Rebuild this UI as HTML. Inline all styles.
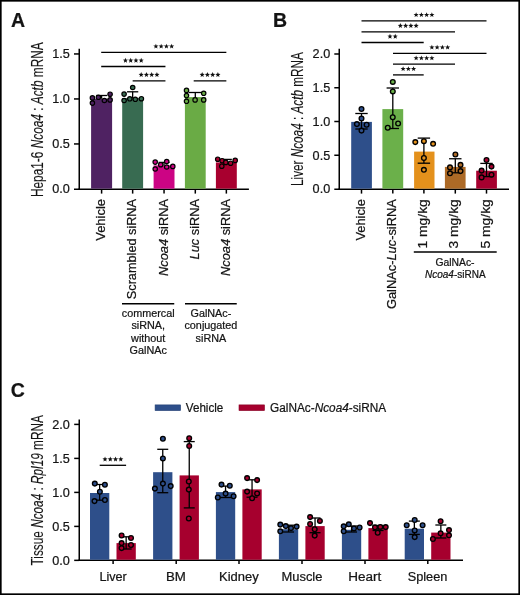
<!DOCTYPE html>
<html><head><meta charset="utf-8"><title>Figure</title>
<style>
html,body{margin:0;padding:0;background:#fff;}
body{width:520px;height:595px;overflow:hidden;}
svg{display:block;font-family:"Liberation Sans", sans-serif;will-change:transform;}
text{fill:#141414;stroke:#141414;stroke-width:0.22px;}
</style></head>
<body>
<svg width="520" height="595" viewBox="0 0 520 595">
<rect x="0" y="0" width="520" height="595" fill="#fff"/>
<line x1="79.25" y1="48.70" x2="79.25" y2="190.00" stroke="#000" stroke-width="1.5"/>
<line x1="74.00" y1="189.25" x2="79.25" y2="189.25" stroke="#000" stroke-width="1.5"/>
<text x="69.90" y="193.25" font-size="12.3" text-anchor="end" textLength="17.6" lengthAdjust="spacingAndGlyphs">0.0</text>
<line x1="74.00" y1="143.95" x2="79.25" y2="143.95" stroke="#000" stroke-width="1.5"/>
<text x="69.90" y="148.25" font-size="12.3" text-anchor="end" textLength="17.6" lengthAdjust="spacingAndGlyphs">0.5</text>
<line x1="74.00" y1="98.95" x2="79.25" y2="98.95" stroke="#000" stroke-width="1.5"/>
<text x="69.90" y="103.25" font-size="12.3" text-anchor="end" textLength="17.6" lengthAdjust="spacingAndGlyphs">1.0</text>
<line x1="74.00" y1="53.95" x2="79.25" y2="53.95" stroke="#000" stroke-width="1.5"/>
<text x="69.90" y="58.25" font-size="12.3" text-anchor="end" textLength="17.6" lengthAdjust="spacingAndGlyphs">1.5</text>
<line x1="78.50" y1="189.25" x2="248.90" y2="189.25" stroke="#000" stroke-width="1.5"/>
<rect x="91.10" y="98.75" width="21.00" height="89.90" fill="#4f2262"/>
<rect x="122.20" y="98.00" width="20.90" height="90.65" fill="#386b51"/>
<rect x="153.60" y="165.40" width="20.90" height="23.25" fill="#cc0484"/>
<rect x="184.90" y="97.10" width="20.80" height="91.55" fill="#6aab45"/>
<rect x="215.90" y="162.40" width="20.90" height="26.25" fill="#a8002f"/>
<line x1="101.60" y1="189.25" x2="101.60" y2="193.60" stroke="#000" stroke-width="1.5"/>
<line x1="132.65" y1="189.25" x2="132.65" y2="193.60" stroke="#000" stroke-width="1.5"/>
<line x1="164.05" y1="189.25" x2="164.05" y2="193.60" stroke="#000" stroke-width="1.5"/>
<line x1="195.30" y1="189.25" x2="195.30" y2="193.60" stroke="#000" stroke-width="1.5"/>
<line x1="226.35" y1="189.25" x2="226.35" y2="193.60" stroke="#000" stroke-width="1.5"/>
<line x1="96.10" y1="95.50" x2="107.10" y2="95.50" stroke="#000" stroke-width="1.3"/>
<line x1="101.60" y1="95.50" x2="101.60" y2="95.50" stroke="#000" stroke-width="1.3"/>
<line x1="101.60" y1="95.50" x2="101.60" y2="98.75" stroke="#000" stroke-width="1.3"/>
<line x1="127.05" y1="91.80" x2="138.25" y2="91.80" stroke="#000" stroke-width="1.3"/>
<line x1="132.65" y1="91.80" x2="132.65" y2="91.80" stroke="#000" stroke-width="1.3"/>
<line x1="132.65" y1="91.80" x2="132.65" y2="98.00" stroke="#000" stroke-width="1.3"/>
<line x1="158.55" y1="162.40" x2="169.55" y2="162.40" stroke="#000" stroke-width="1.3"/>
<line x1="164.05" y1="162.40" x2="164.05" y2="162.40" stroke="#000" stroke-width="1.3"/>
<line x1="164.05" y1="162.40" x2="164.05" y2="165.40" stroke="#000" stroke-width="1.3"/>
<line x1="188.80" y1="92.50" x2="201.80" y2="92.50" stroke="#000" stroke-width="1.3"/>
<line x1="195.30" y1="92.50" x2="195.30" y2="92.50" stroke="#000" stroke-width="1.3"/>
<line x1="195.30" y1="92.50" x2="195.30" y2="97.10" stroke="#000" stroke-width="1.3"/>
<line x1="220.85" y1="159.40" x2="231.85" y2="159.40" stroke="#000" stroke-width="1.3"/>
<line x1="226.35" y1="159.40" x2="226.35" y2="159.40" stroke="#000" stroke-width="1.3"/>
<line x1="226.35" y1="159.40" x2="226.35" y2="162.40" stroke="#000" stroke-width="1.3"/>
<circle cx="92.40" cy="97.90" r="2.2" fill="#4f2262" stroke="#000" stroke-width="1.2"/>
<circle cx="92.40" cy="103.10" r="2.2" fill="#4f2262" stroke="#000" stroke-width="1.2"/>
<circle cx="98.40" cy="97.30" r="2.2" fill="#4f2262" stroke="#000" stroke-width="1.2"/>
<circle cx="104.40" cy="100.50" r="2.2" fill="#4f2262" stroke="#000" stroke-width="1.2"/>
<circle cx="110.10" cy="94.20" r="2.2" fill="#4f2262" stroke="#000" stroke-width="1.2"/>
<circle cx="110.10" cy="99.90" r="2.2" fill="#4f2262" stroke="#000" stroke-width="1.2"/>
<circle cx="132.70" cy="87.50" r="2.2" fill="#386b51" stroke="#000" stroke-width="1.2"/>
<circle cx="124.10" cy="94.10" r="2.2" fill="#386b51" stroke="#000" stroke-width="1.2"/>
<circle cx="124.10" cy="100.50" r="2.2" fill="#386b51" stroke="#000" stroke-width="1.2"/>
<circle cx="129.80" cy="98.80" r="2.2" fill="#386b51" stroke="#000" stroke-width="1.2"/>
<circle cx="135.30" cy="99.30" r="2.2" fill="#386b51" stroke="#000" stroke-width="1.2"/>
<circle cx="141.40" cy="98.70" r="2.2" fill="#386b51" stroke="#000" stroke-width="1.2"/>
<circle cx="155.20" cy="162.10" r="2.2" fill="#cc0484" stroke="#000" stroke-width="1.2"/>
<circle cx="155.20" cy="169.00" r="2.2" fill="#cc0484" stroke="#000" stroke-width="1.2"/>
<circle cx="160.70" cy="164.70" r="2.2" fill="#cc0484" stroke="#000" stroke-width="1.2"/>
<circle cx="166.70" cy="161.50" r="2.2" fill="#cc0484" stroke="#000" stroke-width="1.2"/>
<circle cx="166.70" cy="167.00" r="2.2" fill="#cc0484" stroke="#000" stroke-width="1.2"/>
<circle cx="172.80" cy="166.40" r="2.2" fill="#cc0484" stroke="#000" stroke-width="1.2"/>
<circle cx="186.50" cy="90.40" r="2.2" fill="#6aab45" stroke="#000" stroke-width="1.2"/>
<circle cx="186.50" cy="95.60" r="2.2" fill="#6aab45" stroke="#000" stroke-width="1.2"/>
<circle cx="186.50" cy="101.30" r="2.2" fill="#6aab45" stroke="#000" stroke-width="1.2"/>
<circle cx="195.10" cy="99.90" r="2.2" fill="#6aab45" stroke="#000" stroke-width="1.2"/>
<circle cx="203.70" cy="93.30" r="2.2" fill="#6aab45" stroke="#000" stroke-width="1.2"/>
<circle cx="203.70" cy="99.90" r="2.2" fill="#6aab45" stroke="#000" stroke-width="1.2"/>
<circle cx="217.70" cy="159.20" r="2.2" fill="#a8002f" stroke="#000" stroke-width="1.2"/>
<circle cx="222.10" cy="160.70" r="2.2" fill="#a8002f" stroke="#000" stroke-width="1.2"/>
<circle cx="221.80" cy="166.20" r="2.2" fill="#a8002f" stroke="#000" stroke-width="1.2"/>
<circle cx="225.80" cy="162.40" r="2.2" fill="#a8002f" stroke="#000" stroke-width="1.2"/>
<circle cx="230.60" cy="163.20" r="2.2" fill="#a8002f" stroke="#000" stroke-width="1.2"/>
<circle cx="235.20" cy="160.40" r="2.2" fill="#a8002f" stroke="#000" stroke-width="1.2"/>
<line x1="101.20" y1="52.40" x2="226.35" y2="52.40" stroke="#000" stroke-width="1.3"/>
<path d="M155.90,43.70 L156.58,45.47 L158.47,45.57 L156.99,46.76 L157.49,48.58 L155.90,47.55 L154.31,48.58 L154.81,46.76 L153.33,45.57 L155.22,45.47ZM161.15,43.70 L161.83,45.47 L163.72,45.57 L162.24,46.76 L162.74,48.58 L161.15,47.55 L159.56,48.58 L160.06,46.76 L158.58,45.57 L160.47,45.47ZM166.40,43.70 L167.08,45.47 L168.97,45.57 L167.49,46.76 L167.99,48.58 L166.40,47.55 L164.81,48.58 L165.31,46.76 L163.83,45.57 L165.72,45.47ZM171.65,43.70 L172.33,45.47 L174.22,45.57 L172.74,46.76 L173.24,48.58 L171.65,47.55 L170.06,48.58 L170.56,46.76 L169.08,45.57 L170.97,45.47Z" fill="#111"/>
<line x1="101.20" y1="66.50" x2="165.45" y2="66.50" stroke="#000" stroke-width="1.3"/>
<path d="M125.45,57.80 L126.13,59.57 L128.02,59.67 L126.54,60.86 L127.04,62.68 L125.45,61.65 L123.86,62.68 L124.36,60.86 L122.88,59.67 L124.77,59.57ZM130.70,57.80 L131.38,59.57 L133.27,59.67 L131.79,60.86 L132.29,62.68 L130.70,61.65 L129.11,62.68 L129.61,60.86 L128.13,59.67 L130.02,59.57ZM135.95,57.80 L136.63,59.57 L138.52,59.67 L137.04,60.86 L137.54,62.68 L135.95,61.65 L134.36,62.68 L134.86,60.86 L133.38,59.67 L135.27,59.57ZM141.20,57.80 L141.88,59.57 L143.77,59.67 L142.29,60.86 L142.79,62.68 L141.20,61.65 L139.61,62.68 L140.11,60.86 L138.63,59.67 L140.52,59.57Z" fill="#111"/>
<line x1="132.65" y1="80.80" x2="165.45" y2="80.80" stroke="#000" stroke-width="1.3"/>
<path d="M141.18,72.10 L141.85,73.87 L143.74,73.97 L142.27,75.16 L142.76,76.98 L141.18,75.95 L139.59,76.98 L140.08,75.16 L138.61,73.97 L140.50,73.87ZM146.43,72.10 L147.10,73.87 L148.99,73.97 L147.52,75.16 L148.01,76.98 L146.43,75.95 L144.84,76.98 L145.33,75.16 L143.86,73.97 L145.75,73.87ZM151.68,72.10 L152.35,73.87 L154.24,73.97 L152.77,75.16 L153.26,76.98 L151.68,75.95 L150.09,76.98 L150.58,75.16 L149.11,73.97 L151.00,73.87ZM156.93,72.10 L157.60,73.87 L159.49,73.97 L158.02,75.16 L158.51,76.98 L156.93,75.95 L155.34,76.98 L155.83,75.16 L154.36,73.97 L156.25,73.87Z" fill="#111"/>
<line x1="193.70" y1="80.80" x2="226.35" y2="80.80" stroke="#000" stroke-width="1.3"/>
<path d="M202.15,72.10 L202.83,73.87 L204.72,73.97 L203.24,75.16 L203.74,76.98 L202.15,75.95 L200.56,76.98 L201.06,75.16 L199.58,73.97 L201.47,73.87ZM207.40,72.10 L208.08,73.87 L209.97,73.97 L208.49,75.16 L208.99,76.98 L207.40,75.95 L205.81,76.98 L206.31,75.16 L204.83,73.97 L206.72,73.87ZM212.65,72.10 L213.33,73.87 L215.22,73.97 L213.74,75.16 L214.24,76.98 L212.65,75.95 L211.06,76.98 L211.56,75.16 L210.08,73.97 L211.97,73.87ZM217.90,72.10 L218.58,73.87 L220.47,73.97 L218.99,75.16 L219.49,76.98 L217.90,75.95 L216.31,76.98 L216.81,75.16 L215.33,73.97 L217.22,73.87Z" fill="#111"/>
<text transform="translate(43.1,119.7) rotate(-90)" font-size="15.6" text-anchor="middle" style="stroke-width:0.12px" textLength="154.8" lengthAdjust="spacingAndGlyphs">Hepa1-6 <tspan font-style="italic">Ncoa4</tspan> : <tspan font-style="italic">Actb</tspan> mRNA</text>
<text transform="translate(105.20,199.0) rotate(-90)" font-size="12" text-anchor="end" textLength="41.8" lengthAdjust="spacingAndGlyphs">Vehicle</text>
<text transform="translate(136.25,199.0) rotate(-90)" font-size="12" text-anchor="end" textLength="100.2" lengthAdjust="spacingAndGlyphs">Scrambled siRNA</text>
<text transform="translate(167.65,199.0) rotate(-90)" font-size="12" text-anchor="end" textLength="77.0" lengthAdjust="spacingAndGlyphs"><tspan font-style="italic">Ncoa4</tspan> siRNA</text>
<text transform="translate(198.90,199.0) rotate(-90)" font-size="12" text-anchor="end" textLength="60.4" lengthAdjust="spacingAndGlyphs"><tspan font-style="italic">Luc</tspan> siRNA</text>
<text transform="translate(229.95,199.0) rotate(-90)" font-size="12" text-anchor="end" textLength="77.0" lengthAdjust="spacingAndGlyphs"><tspan font-style="italic">Ncoa4</tspan> siRNA</text>
<line x1="122.00" y1="303.75" x2="174.25" y2="303.75" stroke="#000" stroke-width="1.5"/>
<line x1="185.00" y1="303.75" x2="236.75" y2="303.75" stroke="#000" stroke-width="1.5"/>
<text x="148.20" y="317.20" font-size="10.8" text-anchor="middle" >commercal</text>
<text x="148.20" y="329.45" font-size="10.8" text-anchor="middle" >siRNA,</text>
<text x="148.20" y="341.70" font-size="10.8" text-anchor="middle" >without</text>
<text x="148.20" y="353.95" font-size="10.8" text-anchor="middle" >GalNAc</text>
<text x="210.90" y="317.20" font-size="10.8" text-anchor="middle" >GalNAc-</text>
<text x="210.90" y="329.45" font-size="10.8" text-anchor="middle" >conjugated</text>
<text x="210.90" y="341.70" font-size="10.8" text-anchor="middle" >siRNA</text>
<text x="11.00" y="26.60" font-size="19.5" text-anchor="start" font-weight="bold">A</text>
<line x1="339.25" y1="48.80" x2="339.25" y2="190.00" stroke="#000" stroke-width="1.5"/>
<line x1="334.30" y1="189.25" x2="339.25" y2="189.25" stroke="#000" stroke-width="1.5"/>
<text x="330.20" y="193.30" font-size="12.3" text-anchor="end" textLength="17.6" lengthAdjust="spacingAndGlyphs">0.0</text>
<line x1="334.30" y1="155.25" x2="339.25" y2="155.25" stroke="#000" stroke-width="1.5"/>
<text x="330.20" y="159.55" font-size="12.3" text-anchor="end" textLength="17.6" lengthAdjust="spacingAndGlyphs">0.5</text>
<line x1="334.30" y1="121.50" x2="339.25" y2="121.50" stroke="#000" stroke-width="1.5"/>
<text x="330.20" y="125.80" font-size="12.3" text-anchor="end" textLength="17.6" lengthAdjust="spacingAndGlyphs">1.0</text>
<line x1="334.30" y1="87.75" x2="339.25" y2="87.75" stroke="#000" stroke-width="1.5"/>
<text x="330.20" y="92.05" font-size="12.3" text-anchor="end" textLength="17.6" lengthAdjust="spacingAndGlyphs">1.5</text>
<line x1="334.30" y1="54.00" x2="339.25" y2="54.00" stroke="#000" stroke-width="1.5"/>
<text x="330.20" y="58.30" font-size="12.3" text-anchor="end" textLength="17.6" lengthAdjust="spacingAndGlyphs">2.0</text>
<line x1="338.50" y1="189.25" x2="509.00" y2="189.25" stroke="#000" stroke-width="1.5"/>
<rect x="351.20" y="121.90" width="20.70" height="66.75" fill="#2e4f8a"/>
<rect x="382.40" y="109.10" width="20.80" height="79.55" fill="#6bb04a"/>
<rect x="414.10" y="151.60" width="20.40" height="37.05" fill="#e4911c"/>
<rect x="444.90" y="166.90" width="20.70" height="21.75" fill="#ad6a26"/>
<rect x="476.20" y="170.70" width="20.70" height="17.95" fill="#a6002f"/>
<line x1="361.50" y1="189.25" x2="361.50" y2="193.60" stroke="#000" stroke-width="1.5"/>
<line x1="392.80" y1="189.25" x2="392.80" y2="193.60" stroke="#000" stroke-width="1.5"/>
<line x1="423.90" y1="189.25" x2="423.90" y2="193.60" stroke="#000" stroke-width="1.5"/>
<line x1="455.30" y1="189.25" x2="455.30" y2="193.60" stroke="#000" stroke-width="1.5"/>
<line x1="486.50" y1="189.25" x2="486.50" y2="193.60" stroke="#000" stroke-width="1.5"/>
<line x1="355.30" y1="113.50" x2="367.70" y2="113.50" stroke="#000" stroke-width="1.3"/>
<line x1="355.30" y1="129.00" x2="367.70" y2="129.00" stroke="#000" stroke-width="1.3"/>
<line x1="361.50" y1="113.50" x2="361.50" y2="129.00" stroke="#000" stroke-width="1.3"/>
<line x1="386.60" y1="88.00" x2="399.00" y2="88.00" stroke="#000" stroke-width="1.3"/>
<line x1="386.60" y1="128.50" x2="399.00" y2="128.50" stroke="#000" stroke-width="1.3"/>
<line x1="392.80" y1="88.00" x2="392.80" y2="128.50" stroke="#000" stroke-width="1.3"/>
<line x1="417.70" y1="138.10" x2="430.10" y2="138.10" stroke="#000" stroke-width="1.3"/>
<line x1="417.70" y1="163.20" x2="430.10" y2="163.20" stroke="#000" stroke-width="1.3"/>
<line x1="423.90" y1="138.10" x2="423.90" y2="163.20" stroke="#000" stroke-width="1.3"/>
<line x1="449.10" y1="158.75" x2="461.50" y2="158.75" stroke="#000" stroke-width="1.3"/>
<line x1="449.10" y1="172.80" x2="461.50" y2="172.80" stroke="#000" stroke-width="1.3"/>
<line x1="455.30" y1="158.75" x2="455.30" y2="172.80" stroke="#000" stroke-width="1.3"/>
<line x1="480.30" y1="163.40" x2="492.70" y2="163.40" stroke="#000" stroke-width="1.3"/>
<line x1="480.30" y1="176.60" x2="492.70" y2="176.60" stroke="#000" stroke-width="1.3"/>
<line x1="486.50" y1="163.40" x2="486.50" y2="176.60" stroke="#000" stroke-width="1.3"/>
<circle cx="361.50" cy="109.00" r="2.35" fill="#2e4f8a" stroke="#000" stroke-width="1.35"/>
<circle cx="361.50" cy="118.50" r="2.35" fill="#2e4f8a" stroke="#000" stroke-width="1.35"/>
<circle cx="356.90" cy="124.10" r="2.35" fill="#2e4f8a" stroke="#000" stroke-width="1.35"/>
<circle cx="366.60" cy="124.75" r="2.35" fill="#2e4f8a" stroke="#000" stroke-width="1.35"/>
<circle cx="361.50" cy="130.60" r="2.35" fill="#2e4f8a" stroke="#000" stroke-width="1.35"/>
<circle cx="392.80" cy="81.90" r="2.35" fill="#6bb04a" stroke="#000" stroke-width="1.35"/>
<circle cx="392.80" cy="91.40" r="2.35" fill="#6bb04a" stroke="#000" stroke-width="1.35"/>
<circle cx="392.75" cy="117.25" r="2.35" fill="#6bb04a" stroke="#000" stroke-width="1.35"/>
<circle cx="398.10" cy="123.50" r="2.35" fill="#6bb04a" stroke="#000" stroke-width="1.35"/>
<circle cx="387.75" cy="127.75" r="2.35" fill="#6bb04a" stroke="#000" stroke-width="1.35"/>
<circle cx="415.30" cy="142.10" r="2.35" fill="#e4911c" stroke="#000" stroke-width="1.35"/>
<circle cx="423.90" cy="141.20" r="2.35" fill="#e4911c" stroke="#000" stroke-width="1.35"/>
<circle cx="433.10" cy="143.80" r="2.35" fill="#e4911c" stroke="#000" stroke-width="1.35"/>
<circle cx="423.90" cy="158.00" r="2.35" fill="#e4911c" stroke="#000" stroke-width="1.35"/>
<circle cx="423.90" cy="169.80" r="2.35" fill="#e4911c" stroke="#000" stroke-width="1.35"/>
<circle cx="455.40" cy="154.50" r="2.35" fill="#ad6a26" stroke="#000" stroke-width="1.35"/>
<circle cx="450.00" cy="167.40" r="2.35" fill="#ad6a26" stroke="#000" stroke-width="1.35"/>
<circle cx="460.50" cy="164.90" r="2.35" fill="#ad6a26" stroke="#000" stroke-width="1.35"/>
<circle cx="450.00" cy="173.30" r="2.35" fill="#ad6a26" stroke="#000" stroke-width="1.35"/>
<circle cx="460.50" cy="171.10" r="2.35" fill="#ad6a26" stroke="#000" stroke-width="1.35"/>
<circle cx="486.50" cy="160.00" r="2.35" fill="#a6002f" stroke="#000" stroke-width="1.35"/>
<circle cx="491.50" cy="166.60" r="2.35" fill="#a6002f" stroke="#000" stroke-width="1.35"/>
<circle cx="481.60" cy="170.60" r="2.35" fill="#a6002f" stroke="#000" stroke-width="1.35"/>
<circle cx="491.50" cy="174.70" r="2.35" fill="#a6002f" stroke="#000" stroke-width="1.35"/>
<circle cx="481.60" cy="177.40" r="2.35" fill="#a6002f" stroke="#000" stroke-width="1.35"/>
<line x1="361.50" y1="20.90" x2="486.50" y2="20.90" stroke="#000" stroke-width="1.3"/>
<path d="M416.12,12.20 L416.80,13.97 L418.69,14.07 L417.22,15.26 L417.71,17.08 L416.12,16.05 L414.54,17.08 L415.03,15.26 L413.56,14.07 L415.45,13.97ZM421.38,12.20 L422.05,13.97 L423.94,14.07 L422.47,15.26 L422.96,17.08 L421.38,16.05 L419.79,17.08 L420.28,15.26 L418.81,14.07 L420.70,13.97ZM426.62,12.20 L427.30,13.97 L429.19,14.07 L427.72,15.26 L428.21,17.08 L426.62,16.05 L425.04,17.08 L425.53,15.26 L424.06,14.07 L425.95,13.97ZM431.88,12.20 L432.55,13.97 L434.44,14.07 L432.97,15.26 L433.46,17.08 L431.88,16.05 L430.29,17.08 L430.78,15.26 L429.31,14.07 L431.20,13.97Z" fill="#111"/>
<line x1="361.50" y1="31.80" x2="455.00" y2="31.80" stroke="#000" stroke-width="1.3"/>
<path d="M400.38,23.10 L401.05,24.87 L402.94,24.97 L401.47,26.16 L401.96,27.98 L400.38,26.95 L398.79,27.98 L399.28,26.16 L397.81,24.97 L399.70,24.87ZM405.62,23.10 L406.30,24.87 L408.19,24.97 L406.72,26.16 L407.21,27.98 L405.62,26.95 L404.04,27.98 L404.53,26.16 L403.06,24.97 L404.95,24.87ZM410.88,23.10 L411.55,24.87 L413.44,24.97 L411.97,26.16 L412.46,27.98 L410.88,26.95 L409.29,27.98 L409.78,26.16 L408.31,24.97 L410.20,24.87ZM416.12,23.10 L416.80,24.87 L418.69,24.97 L417.22,26.16 L417.71,27.98 L416.12,26.95 L414.54,27.98 L415.03,26.16 L413.56,24.97 L415.45,24.87Z" fill="#111"/>
<line x1="361.50" y1="42.50" x2="423.70" y2="42.50" stroke="#000" stroke-width="1.3"/>
<path d="M389.98,33.80 L390.65,35.57 L392.54,35.67 L391.07,36.86 L391.56,38.68 L389.98,37.65 L388.39,38.68 L388.88,36.86 L387.41,35.67 L389.30,35.57ZM395.23,33.80 L395.90,35.57 L397.79,35.67 L396.32,36.86 L396.81,38.68 L395.23,37.65 L393.64,38.68 L394.13,36.86 L392.66,35.67 L394.55,35.57Z" fill="#111"/>
<line x1="393.00" y1="53.35" x2="486.50" y2="53.35" stroke="#000" stroke-width="1.3"/>
<path d="M431.88,44.65 L432.55,46.42 L434.44,46.52 L432.97,47.71 L433.46,49.53 L431.88,48.50 L430.29,49.53 L430.78,47.71 L429.31,46.52 L431.20,46.42ZM437.12,44.65 L437.80,46.42 L439.69,46.52 L438.22,47.71 L438.71,49.53 L437.12,48.50 L435.54,49.53 L436.03,47.71 L434.56,46.52 L436.45,46.42ZM442.38,44.65 L443.05,46.42 L444.94,46.52 L443.47,47.71 L443.96,49.53 L442.38,48.50 L440.79,49.53 L441.28,47.71 L439.81,46.52 L441.70,46.42ZM447.62,44.65 L448.30,46.42 L450.19,46.52 L448.72,47.71 L449.21,49.53 L447.62,48.50 L446.04,49.53 L446.53,47.71 L445.06,46.52 L446.95,46.42Z" fill="#111"/>
<line x1="393.00" y1="64.15" x2="455.00" y2="64.15" stroke="#000" stroke-width="1.3"/>
<path d="M416.12,55.45 L416.80,57.22 L418.69,57.32 L417.22,58.51 L417.71,60.33 L416.12,59.30 L414.54,60.33 L415.03,58.51 L413.56,57.32 L415.45,57.22ZM421.38,55.45 L422.05,57.22 L423.94,57.32 L422.47,58.51 L422.96,60.33 L421.38,59.30 L419.79,60.33 L420.28,58.51 L418.81,57.32 L420.70,57.22ZM426.62,55.45 L427.30,57.22 L429.19,57.32 L427.72,58.51 L428.21,60.33 L426.62,59.30 L425.04,60.33 L425.53,58.51 L424.06,57.32 L425.95,57.22ZM431.88,55.45 L432.55,57.22 L434.44,57.32 L432.97,58.51 L433.46,60.33 L431.88,59.30 L430.29,60.33 L430.78,58.51 L429.31,57.32 L431.20,57.22Z" fill="#111"/>
<line x1="393.00" y1="74.90" x2="423.70" y2="74.90" stroke="#000" stroke-width="1.3"/>
<path d="M403.10,66.20 L403.78,67.97 L405.67,68.07 L404.19,69.26 L404.69,71.08 L403.10,70.05 L401.51,71.08 L402.01,69.26 L400.53,68.07 L402.42,67.97ZM408.35,66.20 L409.03,67.97 L410.92,68.07 L409.44,69.26 L409.94,71.08 L408.35,70.05 L406.76,71.08 L407.26,69.26 L405.78,68.07 L407.67,67.97ZM413.60,66.20 L414.28,67.97 L416.17,68.07 L414.69,69.26 L415.19,71.08 L413.60,70.05 L412.01,71.08 L412.51,69.26 L411.03,68.07 L412.92,67.97Z" fill="#111"/>
<text transform="translate(303.3,119.1) rotate(-90)" font-size="15.6" text-anchor="middle" style="stroke-width:0.12px" textLength="133.8" lengthAdjust="spacingAndGlyphs">Liver <tspan font-style="italic">Ncoa4</tspan> : <tspan font-style="italic">Actb</tspan> mRNA</text>
<text transform="translate(364.60,199.2) rotate(-90)" font-size="12" text-anchor="end" textLength="41.4" lengthAdjust="spacingAndGlyphs">Vehicle</text>
<text transform="translate(395.90,199.2) rotate(-90)" font-size="12" text-anchor="end" textLength="109.8" lengthAdjust="spacingAndGlyphs">GalNAc-<tspan font-style="italic">Luc</tspan>-siRNA</text>
<text transform="translate(427.00,199.2) rotate(-90)" font-size="12" text-anchor="end" textLength="49.4" lengthAdjust="spacingAndGlyphs">1 mg/kg</text>
<text transform="translate(458.40,199.2) rotate(-90)" font-size="12" text-anchor="end" textLength="49.4" lengthAdjust="spacingAndGlyphs">3 mg/kg</text>
<text transform="translate(489.60,199.2) rotate(-90)" font-size="12" text-anchor="end" textLength="49.4" lengthAdjust="spacingAndGlyphs">5 mg/kg</text>
<line x1="413.80" y1="252.00" x2="496.70" y2="252.00" stroke="#000" stroke-width="1.5"/>
<text x="455.00" y="265.80" font-size="10" text-anchor="middle" textLength="39.2" lengthAdjust="spacingAndGlyphs">GalNAc-</text>
<text x="455.30" y="277.70" font-size="10" text-anchor="middle" ><tspan font-style="italic">Ncoa4</tspan>-siRNA</text>
<text x="273.00" y="26.60" font-size="19.5" text-anchor="start" font-weight="bold">B</text>
<line x1="79.25" y1="419.40" x2="79.25" y2="561.10" stroke="#000" stroke-width="1.5"/>
<line x1="74.20" y1="560.35" x2="79.25" y2="560.35" stroke="#000" stroke-width="1.5"/>
<text x="69.90" y="564.70" font-size="12.3" text-anchor="end" textLength="17.6" lengthAdjust="spacingAndGlyphs">0.0</text>
<line x1="74.20" y1="526.40" x2="79.25" y2="526.40" stroke="#000" stroke-width="1.5"/>
<text x="69.90" y="530.70" font-size="12.3" text-anchor="end" textLength="17.6" lengthAdjust="spacingAndGlyphs">0.5</text>
<line x1="74.20" y1="492.40" x2="79.25" y2="492.40" stroke="#000" stroke-width="1.5"/>
<text x="69.90" y="496.70" font-size="12.3" text-anchor="end" textLength="17.6" lengthAdjust="spacingAndGlyphs">1.0</text>
<line x1="74.20" y1="458.40" x2="79.25" y2="458.40" stroke="#000" stroke-width="1.5"/>
<text x="69.90" y="462.70" font-size="12.3" text-anchor="end" textLength="17.6" lengthAdjust="spacingAndGlyphs">1.5</text>
<line x1="74.20" y1="424.40" x2="79.25" y2="424.40" stroke="#000" stroke-width="1.5"/>
<text x="69.90" y="428.70" font-size="12.3" text-anchor="end" textLength="17.6" lengthAdjust="spacingAndGlyphs">2.0</text>
<line x1="78.50" y1="560.35" x2="463.00" y2="560.35" stroke="#000" stroke-width="1.5"/>
<rect x="90.00" y="493.00" width="19.30" height="66.75" fill="#2e4f8a"/>
<rect x="116.50" y="543.10" width="19.30" height="16.65" fill="#a6002e"/>
<line x1="113.10" y1="560.35" x2="113.10" y2="564.00" stroke="#000" stroke-width="1.5"/>
<text x="113.10" y="580.60" font-size="12" text-anchor="middle" textLength="27.4" lengthAdjust="spacingAndGlyphs">Liver</text>
<rect x="153.10" y="472.20" width="19.30" height="87.55" fill="#2e4f8a"/>
<rect x="179.60" y="475.40" width="19.30" height="84.35" fill="#a6002e"/>
<line x1="176.20" y1="560.35" x2="176.20" y2="564.00" stroke="#000" stroke-width="1.5"/>
<text x="175.85" y="580.60" font-size="12" text-anchor="middle" textLength="19.9" lengthAdjust="spacingAndGlyphs">BM</text>
<rect x="215.90" y="492.10" width="19.30" height="67.65" fill="#2e4f8a"/>
<rect x="242.40" y="489.40" width="19.30" height="70.35" fill="#a6002e"/>
<line x1="239.00" y1="560.35" x2="239.00" y2="564.00" stroke="#000" stroke-width="1.5"/>
<text x="238.85" y="580.60" font-size="12" text-anchor="middle" textLength="39.7" lengthAdjust="spacingAndGlyphs">Kidney</text>
<rect x="278.90" y="529.20" width="19.30" height="30.55" fill="#2e4f8a"/>
<rect x="305.40" y="526.10" width="19.30" height="33.65" fill="#a6002e"/>
<line x1="302.00" y1="560.35" x2="302.00" y2="564.00" stroke="#000" stroke-width="1.5"/>
<text x="301.95" y="580.60" font-size="12" text-anchor="middle" textLength="40.9" lengthAdjust="spacingAndGlyphs">Muscle</text>
<rect x="341.90" y="529.80" width="19.30" height="29.95" fill="#2e4f8a"/>
<rect x="368.40" y="528.10" width="19.30" height="31.65" fill="#a6002e"/>
<line x1="365.00" y1="560.35" x2="365.00" y2="564.00" stroke="#000" stroke-width="1.5"/>
<text x="364.80" y="580.60" font-size="12" text-anchor="middle" textLength="33.0" lengthAdjust="spacingAndGlyphs">Heart</text>
<rect x="404.70" y="528.70" width="19.30" height="31.05" fill="#2e4f8a"/>
<rect x="431.20" y="532.60" width="19.30" height="27.15" fill="#a6002e"/>
<line x1="427.80" y1="560.35" x2="427.80" y2="564.00" stroke="#000" stroke-width="1.5"/>
<text x="427.55" y="580.60" font-size="12" text-anchor="middle" textLength="39.7" lengthAdjust="spacingAndGlyphs">Spleen</text>
<line x1="94.15" y1="484.50" x2="105.15" y2="484.50" stroke="#000" stroke-width="1.3"/>
<line x1="94.15" y1="500.20" x2="105.15" y2="500.20" stroke="#000" stroke-width="1.3"/>
<line x1="99.65" y1="484.50" x2="99.65" y2="500.20" stroke="#000" stroke-width="1.3"/>
<line x1="120.65" y1="536.80" x2="131.65" y2="536.80" stroke="#000" stroke-width="1.3"/>
<line x1="120.65" y1="549.00" x2="131.65" y2="549.00" stroke="#000" stroke-width="1.3"/>
<line x1="126.15" y1="536.80" x2="126.15" y2="549.00" stroke="#000" stroke-width="1.3"/>
<line x1="157.25" y1="449.30" x2="168.25" y2="449.30" stroke="#000" stroke-width="1.3"/>
<line x1="157.25" y1="492.70" x2="168.25" y2="492.70" stroke="#000" stroke-width="1.3"/>
<line x1="162.75" y1="449.30" x2="162.75" y2="492.70" stroke="#000" stroke-width="1.3"/>
<line x1="183.75" y1="441.60" x2="194.75" y2="441.60" stroke="#000" stroke-width="1.3"/>
<line x1="183.75" y1="507.90" x2="194.75" y2="507.90" stroke="#000" stroke-width="1.3"/>
<line x1="189.25" y1="441.60" x2="189.25" y2="507.90" stroke="#000" stroke-width="1.3"/>
<line x1="220.05" y1="486.10" x2="231.05" y2="486.10" stroke="#000" stroke-width="1.3"/>
<line x1="220.05" y1="497.50" x2="231.05" y2="497.50" stroke="#000" stroke-width="1.3"/>
<line x1="225.55" y1="486.10" x2="225.55" y2="497.50" stroke="#000" stroke-width="1.3"/>
<line x1="246.55" y1="479.80" x2="257.55" y2="479.80" stroke="#000" stroke-width="1.3"/>
<line x1="246.55" y1="497.20" x2="257.55" y2="497.20" stroke="#000" stroke-width="1.3"/>
<line x1="252.05" y1="479.80" x2="252.05" y2="497.20" stroke="#000" stroke-width="1.3"/>
<line x1="283.05" y1="525.20" x2="294.05" y2="525.20" stroke="#000" stroke-width="1.3"/>
<line x1="283.05" y1="532.00" x2="294.05" y2="532.00" stroke="#000" stroke-width="1.3"/>
<line x1="288.55" y1="525.20" x2="288.55" y2="532.00" stroke="#000" stroke-width="1.3"/>
<line x1="309.55" y1="518.00" x2="320.55" y2="518.00" stroke="#000" stroke-width="1.3"/>
<line x1="309.55" y1="532.70" x2="320.55" y2="532.70" stroke="#000" stroke-width="1.3"/>
<line x1="315.05" y1="518.00" x2="315.05" y2="532.70" stroke="#000" stroke-width="1.3"/>
<line x1="346.05" y1="526.00" x2="357.05" y2="526.00" stroke="#000" stroke-width="1.3"/>
<line x1="346.05" y1="532.00" x2="357.05" y2="532.00" stroke="#000" stroke-width="1.3"/>
<line x1="351.55" y1="526.00" x2="351.55" y2="532.00" stroke="#000" stroke-width="1.3"/>
<line x1="372.55" y1="525.50" x2="383.55" y2="525.50" stroke="#000" stroke-width="1.3"/>
<line x1="372.55" y1="530.50" x2="383.55" y2="530.50" stroke="#000" stroke-width="1.3"/>
<line x1="378.05" y1="525.50" x2="378.05" y2="530.50" stroke="#000" stroke-width="1.3"/>
<line x1="408.85" y1="521.10" x2="419.85" y2="521.10" stroke="#000" stroke-width="1.3"/>
<line x1="408.85" y1="534.40" x2="419.85" y2="534.40" stroke="#000" stroke-width="1.3"/>
<line x1="414.35" y1="521.10" x2="414.35" y2="534.40" stroke="#000" stroke-width="1.3"/>
<line x1="435.35" y1="525.00" x2="446.35" y2="525.00" stroke="#000" stroke-width="1.3"/>
<line x1="435.35" y1="538.00" x2="446.35" y2="538.00" stroke="#000" stroke-width="1.3"/>
<line x1="440.85" y1="525.00" x2="440.85" y2="538.00" stroke="#000" stroke-width="1.3"/>
<circle cx="94.80" cy="483.60" r="2.35" fill="#2e4f8a" stroke="#000" stroke-width="1.35"/>
<circle cx="104.90" cy="484.80" r="2.35" fill="#2e4f8a" stroke="#000" stroke-width="1.35"/>
<circle cx="99.90" cy="491.80" r="2.35" fill="#2e4f8a" stroke="#000" stroke-width="1.35"/>
<circle cx="94.50" cy="501.10" r="2.35" fill="#2e4f8a" stroke="#000" stroke-width="1.35"/>
<circle cx="104.90" cy="500.00" r="2.35" fill="#2e4f8a" stroke="#000" stroke-width="1.35"/>
<circle cx="162.90" cy="438.80" r="2.35" fill="#2e4f8a" stroke="#000" stroke-width="1.35"/>
<circle cx="162.90" cy="458.40" r="2.35" fill="#2e4f8a" stroke="#000" stroke-width="1.35"/>
<circle cx="162.90" cy="483.60" r="2.35" fill="#2e4f8a" stroke="#000" stroke-width="1.35"/>
<circle cx="154.90" cy="488.60" r="2.35" fill="#2e4f8a" stroke="#000" stroke-width="1.35"/>
<circle cx="170.70" cy="486.10" r="2.35" fill="#2e4f8a" stroke="#000" stroke-width="1.35"/>
<circle cx="221.50" cy="484.60" r="2.35" fill="#2e4f8a" stroke="#000" stroke-width="1.35"/>
<circle cx="229.80" cy="485.80" r="2.35" fill="#2e4f8a" stroke="#000" stroke-width="1.35"/>
<circle cx="225.60" cy="493.60" r="2.35" fill="#2e4f8a" stroke="#000" stroke-width="1.35"/>
<circle cx="217.80" cy="497.50" r="2.35" fill="#2e4f8a" stroke="#000" stroke-width="1.35"/>
<circle cx="233.60" cy="496.30" r="2.35" fill="#2e4f8a" stroke="#000" stroke-width="1.35"/>
<circle cx="280.30" cy="524.60" r="2.35" fill="#2e4f8a" stroke="#000" stroke-width="1.35"/>
<circle cx="285.80" cy="526.10" r="2.35" fill="#2e4f8a" stroke="#000" stroke-width="1.35"/>
<circle cx="291.00" cy="528.10" r="2.35" fill="#2e4f8a" stroke="#000" stroke-width="1.35"/>
<circle cx="296.60" cy="526.60" r="2.35" fill="#2e4f8a" stroke="#000" stroke-width="1.35"/>
<circle cx="280.30" cy="531.30" r="2.35" fill="#2e4f8a" stroke="#000" stroke-width="1.35"/>
<circle cx="343.70" cy="526.30" r="2.35" fill="#2e4f8a" stroke="#000" stroke-width="1.35"/>
<circle cx="348.80" cy="524.30" r="2.35" fill="#2e4f8a" stroke="#000" stroke-width="1.35"/>
<circle cx="354.00" cy="528.40" r="2.35" fill="#2e4f8a" stroke="#000" stroke-width="1.35"/>
<circle cx="359.60" cy="527.50" r="2.35" fill="#2e4f8a" stroke="#000" stroke-width="1.35"/>
<circle cx="343.70" cy="531.20" r="2.35" fill="#2e4f8a" stroke="#000" stroke-width="1.35"/>
<circle cx="414.70" cy="520.00" r="2.35" fill="#2e4f8a" stroke="#000" stroke-width="1.35"/>
<circle cx="406.70" cy="525.20" r="2.35" fill="#2e4f8a" stroke="#000" stroke-width="1.35"/>
<circle cx="422.60" cy="525.20" r="2.35" fill="#2e4f8a" stroke="#000" stroke-width="1.35"/>
<circle cx="414.70" cy="530.40" r="2.35" fill="#2e4f8a" stroke="#000" stroke-width="1.35"/>
<circle cx="414.70" cy="537.10" r="2.35" fill="#2e4f8a" stroke="#000" stroke-width="1.35"/>
<circle cx="121.60" cy="535.50" r="2.35" fill="#a6002e" stroke="#000" stroke-width="1.35"/>
<circle cx="131.00" cy="538.00" r="2.35" fill="#a6002e" stroke="#000" stroke-width="1.35"/>
<circle cx="121.60" cy="543.10" r="2.35" fill="#a6002e" stroke="#000" stroke-width="1.35"/>
<circle cx="131.00" cy="545.00" r="2.35" fill="#a6002e" stroke="#000" stroke-width="1.35"/>
<circle cx="121.60" cy="548.10" r="2.35" fill="#a6002e" stroke="#000" stroke-width="1.35"/>
<circle cx="189.20" cy="438.20" r="2.35" fill="#a6002e" stroke="#000" stroke-width="1.35"/>
<circle cx="189.20" cy="446.00" r="2.35" fill="#a6002e" stroke="#000" stroke-width="1.35"/>
<circle cx="188.80" cy="481.50" r="2.35" fill="#a6002e" stroke="#000" stroke-width="1.35"/>
<circle cx="188.80" cy="489.60" r="2.35" fill="#a6002e" stroke="#000" stroke-width="1.35"/>
<circle cx="188.80" cy="518.50" r="2.35" fill="#a6002e" stroke="#000" stroke-width="1.35"/>
<circle cx="247.10" cy="478.10" r="2.35" fill="#a6002e" stroke="#000" stroke-width="1.35"/>
<circle cx="257.10" cy="480.10" r="2.35" fill="#a6002e" stroke="#000" stroke-width="1.35"/>
<circle cx="247.10" cy="491.60" r="2.35" fill="#a6002e" stroke="#000" stroke-width="1.35"/>
<circle cx="257.10" cy="493.40" r="2.35" fill="#a6002e" stroke="#000" stroke-width="1.35"/>
<circle cx="252.10" cy="498.30" r="2.35" fill="#a6002e" stroke="#000" stroke-width="1.35"/>
<circle cx="310.10" cy="517.10" r="2.35" fill="#a6002e" stroke="#000" stroke-width="1.35"/>
<circle cx="319.90" cy="520.90" r="2.35" fill="#a6002e" stroke="#000" stroke-width="1.35"/>
<circle cx="310.10" cy="524.00" r="2.35" fill="#a6002e" stroke="#000" stroke-width="1.35"/>
<circle cx="314.70" cy="529.20" r="2.35" fill="#a6002e" stroke="#000" stroke-width="1.35"/>
<circle cx="314.70" cy="535.60" r="2.35" fill="#a6002e" stroke="#000" stroke-width="1.35"/>
<circle cx="370.00" cy="523.10" r="2.35" fill="#a6002e" stroke="#000" stroke-width="1.35"/>
<circle cx="375.00" cy="527.30" r="2.35" fill="#a6002e" stroke="#000" stroke-width="1.35"/>
<circle cx="380.30" cy="526.90" r="2.35" fill="#a6002e" stroke="#000" stroke-width="1.35"/>
<circle cx="385.70" cy="527.10" r="2.35" fill="#a6002e" stroke="#000" stroke-width="1.35"/>
<circle cx="377.70" cy="532.70" r="2.35" fill="#a6002e" stroke="#000" stroke-width="1.35"/>
<circle cx="440.60" cy="521.20" r="2.35" fill="#a6002e" stroke="#000" stroke-width="1.35"/>
<circle cx="449.00" cy="530.10" r="2.35" fill="#a6002e" stroke="#000" stroke-width="1.35"/>
<circle cx="440.60" cy="533.30" r="2.35" fill="#a6002e" stroke="#000" stroke-width="1.35"/>
<circle cx="449.00" cy="535.30" r="2.35" fill="#a6002e" stroke="#000" stroke-width="1.35"/>
<circle cx="432.90" cy="539.00" r="2.35" fill="#a6002e" stroke="#000" stroke-width="1.35"/>
<line x1="99.70" y1="465.30" x2="126.10" y2="465.30" stroke="#000" stroke-width="1.3"/>
<path d="M105.03,456.60 L105.70,458.37 L107.59,458.47 L106.12,459.66 L106.61,461.48 L105.03,460.45 L103.44,461.48 L103.93,459.66 L102.46,458.47 L104.35,458.37ZM110.28,456.60 L110.95,458.37 L112.84,458.47 L111.37,459.66 L111.86,461.48 L110.28,460.45 L108.69,461.48 L109.18,459.66 L107.71,458.47 L109.60,458.37ZM115.53,456.60 L116.20,458.37 L118.09,458.47 L116.62,459.66 L117.11,461.48 L115.53,460.45 L113.94,461.48 L114.43,459.66 L112.96,458.47 L114.85,458.37ZM120.78,456.60 L121.45,458.37 L123.34,458.47 L121.87,459.66 L122.36,461.48 L120.78,460.45 L119.19,461.48 L119.68,459.66 L118.21,458.47 L120.10,458.37Z" fill="#111"/>
<rect x="155.1" y="404.9" width="25.5" height="5.7" fill="#2e4f8a" stroke="#223f73" stroke-width="0.6"/>
<text x="185.80" y="411.90" font-size="12" text-anchor="start" textLength="37.5" lengthAdjust="spacingAndGlyphs">Vehicle</text>
<rect x="239.0" y="404.9" width="25.5" height="5.7" fill="#a6002e" stroke="#850024" stroke-width="0.6"/>
<text x="270.00" y="411.90" font-size="12" text-anchor="start" textLength="116.2" lengthAdjust="spacingAndGlyphs">GalNAc-<tspan font-style="italic">Ncoa4</tspan>-siRNA</text>
<text transform="translate(42.6,490.3) rotate(-90)" font-size="15.6" text-anchor="middle" style="stroke-width:0.12px" textLength="150.2" lengthAdjust="spacingAndGlyphs">Tissue <tspan font-style="italic">Ncoa4</tspan> : <tspan font-style="italic">Rpl19</tspan> mRNA</text>
<text x="10.80" y="396.60" font-size="19.5" text-anchor="start" font-weight="bold">C</text>
<rect x="0.7" y="0.7" width="518.6" height="593.6" fill="none" stroke="#000" stroke-width="1.9"/>
</svg>
</body></html>
